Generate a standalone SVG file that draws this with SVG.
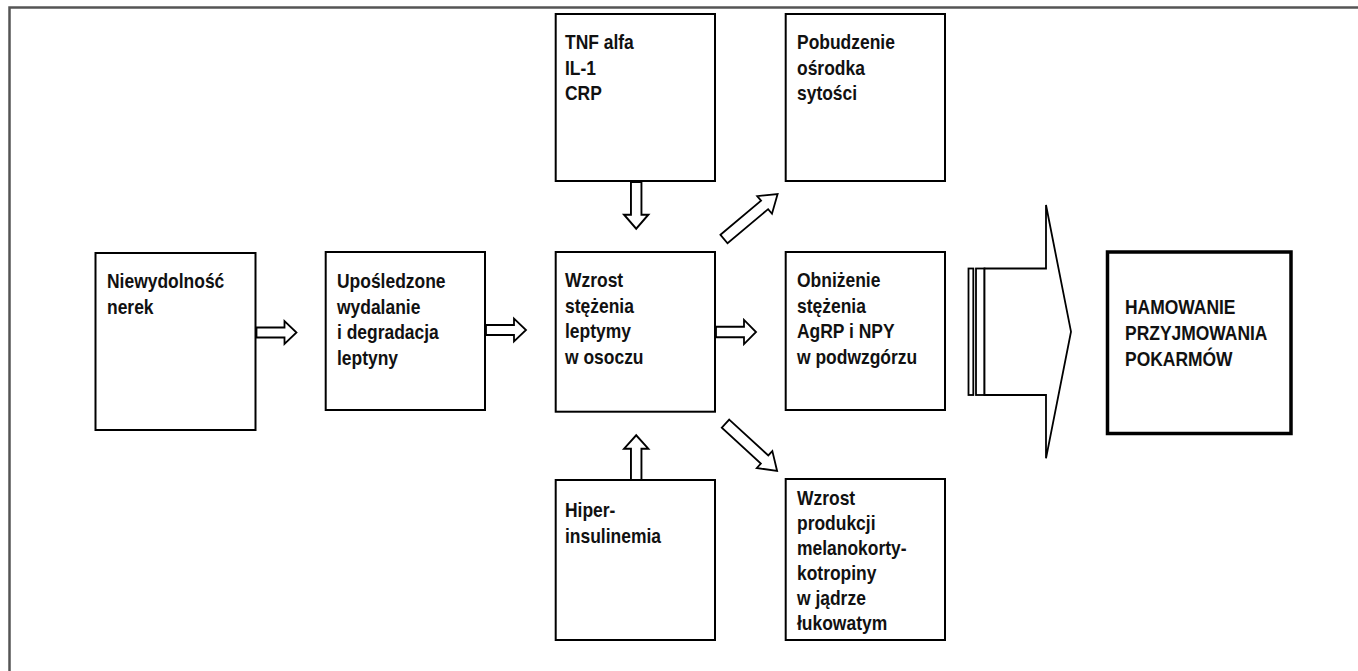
<svg xmlns="http://www.w3.org/2000/svg" width="1358" height="671" viewBox="0 0 1358 671">
<style>
.box{fill:#fff;stroke:#000;stroke-width:2}
.bold{fill:#fff;stroke:#000;stroke-width:3.5}
.t{font-family:"Liberation Sans",Arial,sans-serif;font-weight:bold;font-size:19.4px;fill:#111}
.ar{fill:#fff;stroke:#000;stroke-width:1.8;stroke-linejoin:miter}
.frame{fill:none;stroke:#555;stroke-width:2.5}
</style>
<defs>
<polygon id="harrow" points="0,-5 28,-5 28,-11.5 40,0 28,11.5 28,5 0,5"/>
<polygon id="darrow" points="0,-5.5 53,-5.5 53,-11.5 70,0 53,11.5 53,5.5 0,5.5"/>
</defs>
<path class="frame" d="M1358,7.5 H9.5 V671"/>

<g id="n1"><rect class="box" x="95.5" y="253" width="160" height="177"/>
<text class="t" transform="matrix(0.9,0,0,1,107,0)"><tspan x="0" y="288">Niewydolność</tspan><tspan x="0" y="313.7">nerek</tspan></text></g>

<g id="n2"><rect class="box" x="325.7" y="252" width="159.3" height="158"/>
<text class="t" transform="matrix(0.9,0,0,1,337,0)"><tspan x="0" y="288">Upośledzone</tspan><tspan x="0" y="313.7">wydalanie</tspan><tspan x="0" y="339.4">i degradacja</tspan><tspan x="0" y="365.1">leptyny</tspan></text></g>

<g id="n3"><rect class="box" x="555.7" y="252" width="159.3" height="159.7"/>
<text class="t" transform="matrix(0.9,0,0,1,565,0)"><tspan x="0" y="287">Wzrost</tspan><tspan x="0" y="312.7">stężenia</tspan><tspan x="0" y="338.4">leptymy</tspan><tspan x="0" y="364.1">w osoczu</tspan></text></g>

<g id="n4"><rect class="box" x="555.7" y="14" width="159.3" height="167"/>
<text class="t" transform="matrix(0.9,0,0,1,565,0)"><tspan x="0" y="49">TNF alfa</tspan><tspan x="0" y="74.7">IL-1</tspan><tspan x="0" y="100.4">CRP</tspan></text></g>

<g id="n5"><rect class="box" x="555.7" y="480" width="159.3" height="160"/>
<text class="t" transform="matrix(0.9,0,0,1,565,0)"><tspan x="0" y="517">Hiper-</tspan><tspan x="0" y="542.7">insulinemia</tspan></text></g>

<g id="n6"><rect class="box" x="785.7" y="14" width="159.3" height="167"/>
<text class="t" transform="matrix(0.9,0,0,1,797,0)"><tspan x="0" y="49">Pobudzenie</tspan><tspan x="0" y="74.7">ośrodka</tspan><tspan x="0" y="100.4">sytości</tspan></text></g>

<g id="n7"><rect class="box" x="785.7" y="252" width="159.3" height="158"/>
<text class="t" transform="matrix(0.9,0,0,1,797,0)"><tspan x="0" y="287">Obniżenie</tspan><tspan x="0" y="312.7">stężenia</tspan><tspan x="0" y="338.4">AgRP i NPY</tspan><tspan x="0" y="364.1">w podwzgórzu</tspan></text></g>

<g id="n8"><rect class="box" x="785.7" y="479" width="159.3" height="161"/>
<text class="t" transform="matrix(0.9,0,0,1,797,0)"><tspan x="0" y="505">Wzrost</tspan><tspan x="0" y="530">produkcji</tspan><tspan x="0" y="555">melanokorty-</tspan><tspan x="0" y="580">kotropiny</tspan><tspan x="0" y="605">w jądrze</tspan><tspan x="0" y="630">łukowatym</tspan></text></g>

<g id="n9"><rect class="bold" x="1107.5" y="252" width="183.5" height="181.5"/>
<text class="t" transform="matrix(0.9,0,0,1,1125,0)"><tspan x="0" y="314">HAMOWANIE</tspan><tspan x="0" y="339.8">PRZYJMOWANIA</tspan><tspan x="0" y="365.6">POKARMÓW</tspan></text></g>

<g id="connectors">
<use href="#harrow" class="ar" transform="translate(256.5,332.5)"/>
<use href="#harrow" class="ar" transform="translate(486,330)"/>
<use href="#harrow" class="ar" transform="translate(716,332) scale(1,1.05)"/>
<use href="#harrow" class="ar" transform="translate(636.2,182) rotate(90) scale(1.17,1.05)"/>
<use href="#harrow" class="ar" transform="translate(636.2,480) rotate(-90) scale(1.12,1.05)"/>
<use href="#darrow" class="ar" transform="translate(724,239) rotate(-40)"/>
<use href="#darrow" class="ar" transform="translate(725.5,423.7) rotate(42.5)"/>
<g id="bigarrow">
<rect class="ar" x="968.5" y="268.5" width="4.8" height="126.5"/>
<rect class="ar" x="976" y="268.5" width="8.5" height="126.5"/>
<polygon class="ar" stroke-width="2.2" points="984.5,268.5 1046,268.5 1046,205 1071,331.7 1046,458.3 1046,395 984.5,395"/>
</g>
</g>
</svg>
